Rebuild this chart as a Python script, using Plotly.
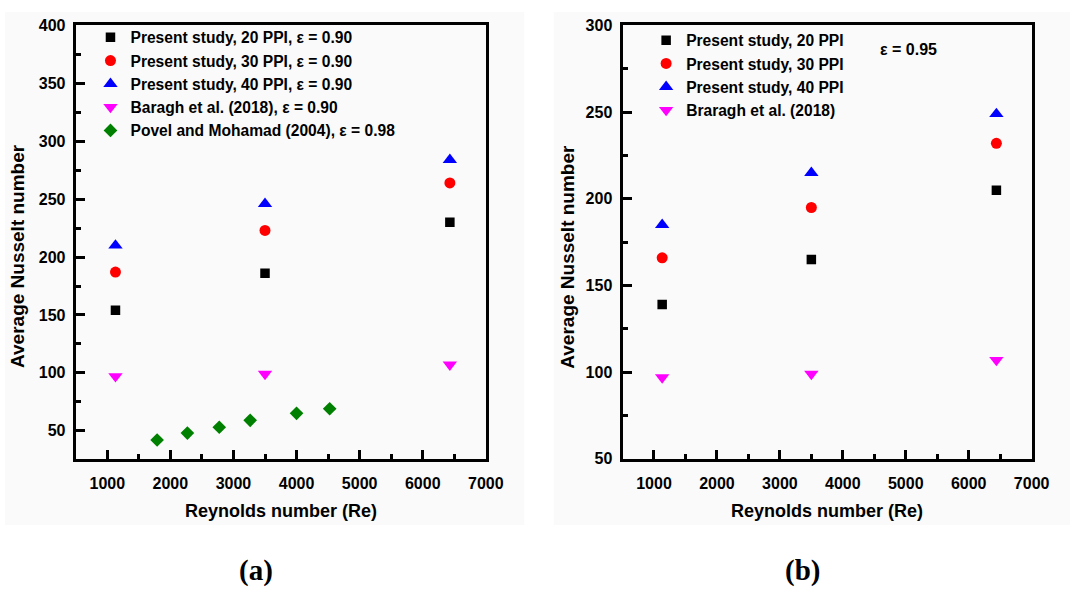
import plotly.graph_objects as go

W, H = 1088, 601

# Reynolds numbers of the present simulations
re_a = [1130, 3500, 6430]
re_b = [1130, 3500, 6440]

# (a) porosity 0.90
nu_a_20 = [154, 186, 230]
nu_a_30 = [187, 223, 264]
nu_a_40 = [210, 246, 284]
nu_a_baragh = [97, 99, 107]
re_povel = [1790, 2270, 2775, 3265, 4000, 4525]
nu_povel = [42, 48, 53, 59, 65, 69]

# (b) porosity 0.95
nu_b_20 = [139, 165, 205]
nu_b_30 = [166, 195, 232]
nu_b_40 = [185, 215, 249]
nu_b_baragh = [97, 99, 107]

names_a = [
    "Present study, 20 PPI, ε = 0.90",
    "Present study, 30 PPI, ε = 0.90",
    "Present study, 40 PPI, ε = 0.90",
    "Baragh et al. (2018), ε = 0.90",
    "Povel and Mohamad (2004), ε = 0.98",
]
names_b = [
    "Present study, 20 PPI",
    "Present study, 30 PPI",
    "Present study, 40 PPI",
    "Braragh et al. (2018)",
]

FONT = "Arial, 'Liberation Sans', sans-serif"
SERIF = "'Times New Roman', 'Liberation Serif', serif"


def px(x):
    return x / W


def py(y):
    return 1 - y / H


styles = [
    dict(symbol="square", size=9.5, color="#000000"),
    dict(symbol="circle", size=11, color="#ff0000"),
    dict(symbol="triangle-up", size=12.5, color="#0000ff"),
    dict(symbol="triangle-down", size=12.5, color="#ff00ff"),
    dict(symbol="diamond", size=10.5, color="#008000"),
]

fig = go.Figure()

series_a = [(re_a, nu_a_20), (re_a, nu_a_30), (re_a, nu_a_40),
            (re_a, nu_a_baragh), (re_povel, nu_povel)]
for (xs, ys), name, st in zip(series_a, names_a, styles):
    fig.add_trace(go.Scatter(
        x=xs, y=ys, mode="markers", name=name,
        marker=dict(symbol=st["symbol"], size=st["size"], color=st["color"],
                    line=dict(width=0)),
        xaxis="x", yaxis="y", legend="legend",
    ))

series_b = [(re_b, nu_b_20), (re_b, nu_b_30), (re_b, nu_b_40),
            (re_b, nu_b_baragh)]
for (xs, ys), name, st in zip(series_b, names_b, styles):
    fig.add_trace(go.Scatter(
        x=xs, y=ys, mode="markers", name=name,
        marker=dict(symbol=st["symbol"], size=st["size"], color=st["color"],
                    line=dict(width=0)),
        xaxis="x2", yaxis="y2", legend="legend2",
    ))

tickfont = dict(family=FONT, size=16, color="#000000", weight=700)


def xaxis(domain, anchor):
    return dict(
        domain=domain, anchor=anchor, range=[500, 7000],
        tickmode="array", tickvals=[1000, 2000, 3000, 4000, 5000, 6000, 7000],
        ticks="inside", ticklen=9, tickwidth=2.5, tickcolor="#000",
        minor=dict(tickmode="array", tickvals=[1500, 2500, 3500, 4500, 5500, 6500],
                   ticks="inside", ticklen=5, tickwidth=2.5, tickcolor="#000"),
        showline=True, linewidth=3, linecolor="#000", mirror=True,
        showgrid=False, zeroline=False, tickfont=tickfont,
        ticklabelstandoff=8,
    )


def yaxis(domain, anchor, rng, major, minor):
    return dict(
        domain=domain, anchor=anchor, range=rng,
        tickmode="array", tickvals=major,
        ticks="inside", ticklen=9, tickwidth=2.5, tickcolor="#000",
        minor=dict(tickmode="array", tickvals=minor,
                   ticks="inside", ticklen=5, tickwidth=2.5, tickcolor="#000"),
        showline=True, linewidth=3, linecolor="#000", mirror=True,
        showgrid=False, zeroline=False, tickfont=tickfont,
        ticklabelstandoff=4,
    )


ydom = [py(464), py(18)]
legend_font = dict(family=FONT, size=15.6, color="#000000", weight=700)

fig.update_layout(
    width=W, height=H,
    margin=dict(l=0, r=0, t=0, b=0),
    paper_bgcolor="#ffffff",
    plot_bgcolor="rgba(0,0,0,0)",
    showlegend=True,
    xaxis=xaxis([px(77), px(494)], "y"),
    yaxis=yaxis(ydom, "x", [25.7, 400],
                [50, 100, 150, 200, 250, 300, 350, 400],
                [75, 125, 175, 225, 275, 325, 375]),
    xaxis2=xaxis([px(633), px(1049)], "y2"),
    yaxis2=yaxis(ydom, "x2", [50, 300],
                 [50, 100, 150, 200, 250, 300],
                 [75, 125, 175, 225, 275]),
    legend=dict(x=px(92), y=py(13), xanchor="left", yanchor="top",
                bgcolor="rgba(0,0,0,0)", borderwidth=0, font=legend_font,
                traceorder="normal"),
    legend2=dict(x=px(657), y=py(16), xanchor="left", yanchor="top",
                 bgcolor="rgba(0,0,0,0)", borderwidth=0, font=legend_font,
                 traceorder="normal"),
    shapes=[
        dict(type="rect", xref="paper", yref="paper", layer="below",
             x0=px(5), x1=px(533), y0=py(532), y1=py(4),
             fillcolor="#fafafa", line=dict(width=0)),
        dict(type="rect", xref="paper", yref="paper", layer="below",
             x0=px(563), x1=px(1088), y0=py(532), y1=py(4),
             fillcolor="#fafafa", line=dict(width=0)),
    ],
)

title_font = dict(family=FONT, size=18, color="#000000", weight=700)
ytitle_font = dict(family=FONT, size=19, color="#000000", weight=700)
annotations = [
    dict(text="Average Nusselt number", x=px(18), y=py(255.5), textangle=-90,
         font=ytitle_font),
    dict(text="Average Nusselt number", x=px(577), y=py(255.5), textangle=-90,
         font=ytitle_font),
    dict(text="Reynolds number (Re)", x=px(285.5), y=py(518), font=title_font),
    dict(text="Reynolds number (Re)", x=px(841), y=py(518), font=title_font),
    dict(text="ε = 0.95", x=px(924), y=py(43),
         font=dict(family=FONT, size=16, color="#000000", weight=700)),
    dict(text="(a)", x=px(260), y=py(579),
         font=dict(family=SERIF, size=29, color="#000000", weight=700)),
    dict(text="(b)", x=px(816), y=py(579),
         font=dict(family=SERIF, size=29, color="#000000", weight=700)),
]
for a in annotations:
    a.update(xref="paper", yref="paper", showarrow=False,
             xanchor="center", yanchor="middle")
fig.update_layout(annotations=annotations)

fig.write_html("out.html")
